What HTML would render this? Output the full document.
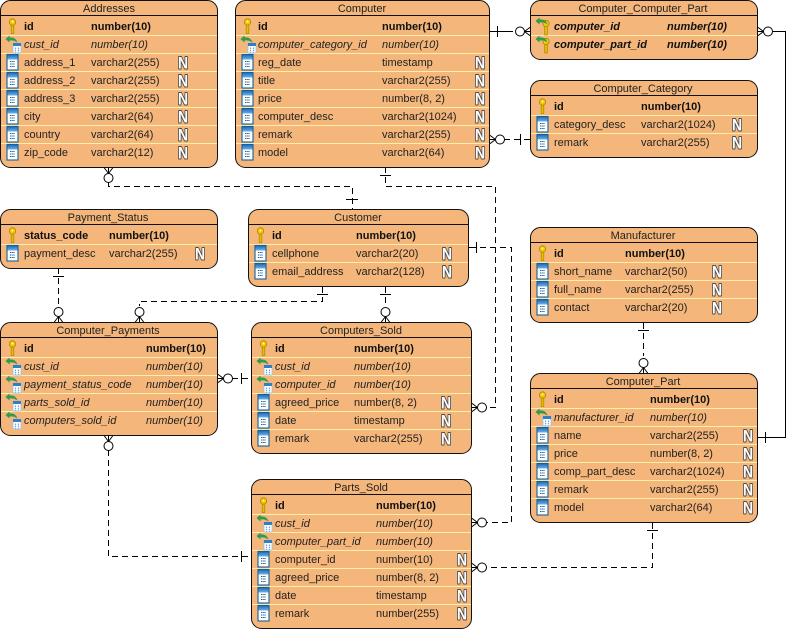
<!DOCTYPE html>
<html><head><meta charset="utf-8"><style>
html,body{margin:0;padding:0;background:#fff}
svg{display:block}
text{font:11px "Liberation Sans",Arial,sans-serif;fill:#222}
.b{font-weight:bold;fill:#111}
.i{font-style:italic}
.bi{font-weight:bold;font-style:italic;fill:#111}
.t{text-anchor:middle}
.N{font-weight:bold;font-size:17px;text-anchor:middle;fill:#fff;stroke:#4a4a4a;stroke-width:2px;paint-order:stroke;stroke-linejoin:round;transform-box:fill-box;transform-origin:center;transform:scaleX(.82)}
.box{fill:#f4b67a;stroke:#111;stroke-width:1}
.h{stroke:#111;fill:none}
.s{stroke:#fdf0a8;fill:none}
.c{stroke:#000;fill:none;stroke-width:1}
.d{stroke:#000;fill:none;stroke-width:1;stroke-dasharray:6 4}
.cf{stroke:#000;fill:none}
.cf circle{fill:#fff}
</style></head><body>
<svg width="786" height="629" viewBox="0 0 786 629" xmlns="http://www.w3.org/2000/svg">
<defs>
<linearGradient id="gt" x1="0" y1="0" x2="0" y2="1"><stop offset="0" stop-color="#1f6fbd"/><stop offset="1" stop-color="#6fb0e6"/></linearGradient>
<g id="k"><rect x="-1.300" y="-3" width="2.600" height="10.500" fill="#eebb00" stroke="#a88600" stroke-width=".7"/><circle cx="0" cy="-4" r="3.200" fill="#f5c800" stroke="#a88600" stroke-width=".8"/><circle cx="0" cy="-4.500" r="1" fill="#fff3b0"/></g>
<g id="c"><rect x="-5.500" y="-7.500" width="11" height="15.500" fill="#fff" stroke="#14609f" stroke-width="1.100"/><rect x="-5" y="-7" width="10" height="4.500" fill="url(#gt)"/><path d="M-2.500-.5h5M-2.500 2h5M-2.500 4.500h5" stroke="#14609f" stroke-width="1.100" stroke-dasharray="1.500 .7"/></g>
<path id="a" d="M-7-5-3-8.500-3-6.500C1-7 4-5 5-1.500 2-3.500 0-4-3-3.500L-3-1.500Z" fill="#2e9b4f"/>
<g id="f"><use href="#a"/><rect x="0.500" y="-.5" width="8" height="9.500" fill="#fff" stroke="#9cc0e0" stroke-width=".8"/><rect x="0.500" y="-1" width="8" height="3" fill="#2f7fc8"/><path d="M3 3.500v5M6 3.500v5" stroke="#6aa3d6" stroke-width="1.200" stroke-dasharray="1.500 .7"/></g>
<g id="fk"><use href="#k" x="3.500" y="1.500"/><use href="#a"/></g>
<g id="foot" class="cf"><path d="M0-4.500 6 0M0 4.500 6 0M0 0H6"/><circle cx="10.500" cy="0" r="4.500"/></g>
</defs>

<!-- connectors -->
<path class="d" d="M108.500 182V186.500H352.500V209"/>
<path class="c" d="M346 199.500H358"/>
<use href="#foot" transform="translate(108.500,167.500) rotate(90)"/>

<path class="d" d="M385.500 167V186.500H495.500V407.500H486"/>
<path class="c" d="M380 175.500H391"/>
<use href="#foot" transform="translate(471.500,407.500)"/>

<path class="c" d="M468 247.500H476.500M476.500 242V253"/>
<path class="d" d="M480 247.500H511.500V522.500H486"/>
<use href="#foot" transform="translate(471.500,522.500)"/>

<path class="c" d="M490 31.500H513M497.500 26V37"/>
<use href="#foot" transform="translate(530.500,31.500) rotate(180)"/>
<path class="c" d="M773 31.500H785.500V437.500H757.500M765.500 432V443"/>
<use href="#foot" transform="translate(757.500,31.500)"/>

<path class="d" d="M504 139.500H530"/>
<path class="c" d="M520.500 134V145"/>
<use href="#foot" transform="translate(489.500,139.500)"/>

<path class="d" d="M58.500 268V306"/>
<path class="c" d="M53 276.500H64"/>
<use href="#foot" transform="translate(58.500,322.500) rotate(-90)"/>

<path class="d" d="M322.500 287V301.500H139.500V306"/>
<path class="c" d="M317 294.500H328"/>
<use href="#foot" transform="translate(139.500,322.500) rotate(-90)"/>

<path class="d" d="M385.500 287V306"/>
<path class="c" d="M380 294.500H391"/>
<use href="#foot" transform="translate(385.500,322.500) rotate(-90)"/>

<path class="d" d="M232 378.500H251"/>
<path class="c" d="M241.500 373V384"/>
<use href="#foot" transform="translate(217.500,378.500)"/>

<path class="d" d="M643.500 323V356"/>
<path class="c" d="M638 330.500H649"/>
<use href="#foot" transform="translate(643.500,373.500) rotate(-90)"/>

<path class="d" d="M652.500 523V567.500H486"/>
<path class="c" d="M647 530.500H658"/>
<use href="#foot" transform="translate(471.500,567.500)"/>

<path class="d" d="M108.500 450V556.500H251"/>
<path class="c" d="M241.500 551V562"/>
<use href="#foot" transform="translate(108.500,435.500) rotate(90)"/>

<!-- Addresses -->
<g transform="translate(0,0)">
<rect class="box" x=".5" y=".5" width="217" height="167" rx="10"/>
<path class="h" d="M.5 15.500H217.500"/>
<path class="s" d="M1 35.500H217M1 53.500H217M1 71.500H217M1 89.500H217M1 107.500H217M1 125.500H217M1 143.500H217"/>
<text class="t" x="109" y="12">Addresses</text>
<use href="#k" x="12.500" y="26"/><text class="b" x="24" y="30">id</text><text class="b" x="91" y="30">number(10)</text>
<use href="#f" x="12.500" y="44"/><text class="i" x="24" y="48">cust_id</text><text class="i" x="91" y="48">number(10)</text>
<use href="#c" x="12.500" y="62"/><text x="24" y="66">address_1</text><text x="91" y="66">varchar2(255)</text><text class="N" x="183" y="68.500">N</text>
<use href="#c" x="12.500" y="80"/><text x="24" y="84">address_2</text><text x="91" y="84">varchar2(255)</text><text class="N" x="183" y="86.500">N</text>
<use href="#c" x="12.500" y="98"/><text x="24" y="102">address_3</text><text x="91" y="102">varchar2(255)</text><text class="N" x="183" y="104.500">N</text>
<use href="#c" x="12.500" y="116"/><text x="24" y="120">city</text><text x="91" y="120">varchar2(64)</text><text class="N" x="183" y="122.500">N</text>
<use href="#c" x="12.500" y="134"/><text x="24" y="138">country</text><text x="91" y="138">varchar2(64)</text><text class="N" x="183" y="140.500">N</text>
<use href="#c" x="12.500" y="152"/><text x="24" y="156">zip_code</text><text x="91" y="156">varchar2(12)</text><text class="N" x="183" y="158.500">N</text>
</g>

<!-- Computer -->
<g transform="translate(235,0)">
<rect class="box" x=".5" y=".5" width="254" height="167" rx="10"/>
<path class="h" d="M.5 15.500H254.500"/>
<path class="s" d="M1 35.500H254M1 53.500H254M1 71.500H254M1 89.500H254M1 107.500H254M1 125.500H254M1 143.500H254"/>
<text class="t" x="127" y="12">Computer</text>
<use href="#k" x="12.500" y="26"/><text class="b" x="23" y="30">id</text><text class="b" x="147" y="30">number(10)</text>
<use href="#f" x="12.500" y="44"/><text class="i" x="23" y="48">computer_category_id</text><text class="i" x="147" y="48">number(10)</text>
<use href="#c" x="12.500" y="62"/><text x="23" y="66">reg_date</text><text x="147" y="66">timestamp</text><text class="N" x="245" y="68.500">N</text>
<use href="#c" x="12.500" y="80"/><text x="23" y="84">title</text><text x="147" y="84">varchar2(255)</text><text class="N" x="245" y="86.500">N</text>
<use href="#c" x="12.500" y="98"/><text x="23" y="102">price</text><text x="147" y="102">number(8, 2)</text><text class="N" x="245" y="104.500">N</text>
<use href="#c" x="12.500" y="116"/><text x="23" y="120">computer_desc</text><text x="147" y="120">varchar2(1024)</text><text class="N" x="245" y="122.500">N</text>
<use href="#c" x="12.500" y="134"/><text x="23" y="138">remark</text><text x="147" y="138">varchar2(255)</text><text class="N" x="245" y="140.500">N</text>
<use href="#c" x="12.500" y="152"/><text x="23" y="156">model</text><text x="147" y="156">varchar2(64)</text><text class="N" x="245" y="158.500">N</text>
</g>

<!-- Computer_Computer_Part -->
<g transform="translate(530,0)">
<rect class="box" x=".5" y=".5" width="227" height="59" rx="10"/>
<path class="h" d="M.5 15.500H227.500"/>
<path class="s" d="M1 35.500H227"/>
<text class="t" x="113" y="12">Computer_Computer_Part</text>
<use href="#fk" x="12.500" y="26"/><text class="bi" x="24" y="30">computer_id</text><text class="bi" x="137" y="30">number(10)</text>
<use href="#fk" x="12.500" y="44"/><text class="bi" x="24" y="48">computer_part_id</text><text class="bi" x="137" y="48">number(10)</text>
</g>

<!-- Computer_Category -->
<g transform="translate(530,80)">
<rect class="box" x=".5" y=".5" width="227" height="77" rx="10"/>
<path class="h" d="M.5 15.500H227.500"/>
<path class="s" d="M1 35.500H227M1 53.500H227"/>
<text class="t" x="113" y="12">Computer_Category</text>
<use href="#k" x="12.500" y="26"/><text class="b" x="24" y="30">id</text><text class="b" x="111" y="30">number(10)</text>
<use href="#c" x="12.500" y="44"/><text x="24" y="48">category_desc</text><text x="111" y="48">varchar2(1024)</text><text class="N" x="207" y="50.500">N</text>
<use href="#c" x="12.500" y="62"/><text x="24" y="66">remark</text><text x="111" y="66">varchar2(255)</text><text class="N" x="207" y="68.500">N</text>
</g>

<!-- Manufacturer -->
<g transform="translate(530,227)">
<rect class="box" x=".5" y=".5" width="227" height="95" rx="10"/>
<path class="h" d="M.5 15.500H227.500"/>
<path class="s" d="M1 35.500H227M1 53.500H227M1 71.500H227"/>
<text class="t" x="113" y="12">Manufacturer</text>
<use href="#k" x="12.500" y="26"/><text class="b" x="24" y="30">id</text><text class="b" x="95" y="30">number(10)</text>
<use href="#c" x="12.500" y="44"/><text x="24" y="48">short_name</text><text x="95" y="48">varchar2(50)</text><text class="N" x="187" y="50.500">N</text>
<use href="#c" x="12.500" y="62"/><text x="24" y="66">full_name</text><text x="95" y="66">varchar2(255)</text><text class="N" x="187" y="68.500">N</text>
<use href="#c" x="12.500" y="80"/><text x="24" y="84">contact</text><text x="95" y="84">varchar2(20)</text><text class="N" x="187" y="86.500">N</text>
</g>

<!-- Computer_Part -->
<g transform="translate(530,373)">
<rect class="box" x=".5" y=".5" width="227" height="149" rx="10"/>
<path class="h" d="M.5 15.500H227.500"/>
<path class="s" d="M1 35.500H227M1 53.500H227M1 71.500H227M1 89.500H227M1 107.500H227M1 125.500H227"/>
<text class="t" x="113" y="12">Computer_Part</text>
<use href="#k" x="12.500" y="26"/><text class="b" x="24" y="30">id</text><text class="b" x="120" y="30">number(10)</text>
<use href="#f" x="12.500" y="44"/><text class="i" x="24" y="48">manufacturer_id</text><text class="i" x="120" y="48">number(10)</text>
<use href="#c" x="12.500" y="62"/><text x="24" y="66">name</text><text x="120" y="66">varchar2(255)</text><text class="N" x="218" y="68.500">N</text>
<use href="#c" x="12.500" y="80"/><text x="24" y="84">price</text><text x="120" y="84">number(8, 2)</text><text class="N" x="218" y="86.500">N</text>
<use href="#c" x="12.500" y="98"/><text x="24" y="102">comp_part_desc</text><text x="120" y="102">varchar2(1024)</text><text class="N" x="218" y="104.500">N</text>
<use href="#c" x="12.500" y="116"/><text x="24" y="120">remark</text><text x="120" y="120">varchar2(255)</text><text class="N" x="218" y="122.500">N</text>
<use href="#c" x="12.500" y="134"/><text x="24" y="138">model</text><text x="120" y="138">varchar2(64)</text><text class="N" x="218" y="140.500">N</text>
</g>

<!-- Payment_Status -->
<g transform="translate(0,209)">
<rect class="box" x=".5" y=".5" width="217" height="59" rx="10"/>
<path class="h" d="M.5 15.500H217.500"/>
<path class="s" d="M1 35.500H217"/>
<text class="t" x="108" y="12">Payment_Status</text>
<use href="#k" x="12.500" y="26"/><text class="b" x="24" y="30">status_code</text><text class="b" x="109" y="30">number(10)</text>
<use href="#c" x="12.500" y="44"/><text x="24" y="48">payment_desc</text><text x="109" y="48">varchar2(255)</text><text class="N" x="200" y="50.500">N</text>
</g>

<!-- Customer -->
<g transform="translate(248,209)">
<rect class="box" x=".5" y=".5" width="220" height="77" rx="10"/>
<path class="h" d="M.5 15.500H220.500"/>
<path class="s" d="M1 35.500H220M1 53.500H220"/>
<text class="t" x="110" y="12">Customer</text>
<use href="#k" x="12.500" y="26"/><text class="b" x="24" y="30">id</text><text class="b" x="108" y="30">number(10)</text>
<use href="#c" x="12.500" y="44"/><text x="24" y="48">cellphone</text><text x="108" y="48">varchar2(20)</text><text class="N" x="199" y="50.500">N</text>
<use href="#c" x="12.500" y="62"/><text x="24" y="66">email_address</text><text x="108" y="66">varchar2(128)</text><text class="N" x="199" y="68.500">N</text>
</g>

<!-- Computer_Payments -->
<g transform="translate(0,322)">
<rect class="box" x=".5" y=".5" width="217" height="113" rx="10"/>
<path class="h" d="M.5 15.500H217.500"/>
<path class="s" d="M1 35.500H217M1 53.500H217M1 71.500H217M1 89.500H217"/>
<text class="t" x="108" y="12">Computer_Payments</text>
<use href="#k" x="12.500" y="26"/><text class="b" x="24" y="30">id</text><text class="b" x="146" y="30">number(10)</text>
<use href="#f" x="12.500" y="44"/><text class="i" x="24" y="48">cust_id</text><text class="i" x="146" y="48">number(10)</text>
<use href="#f" x="12.500" y="62"/><text class="i" x="24" y="66">payment_status_code</text><text class="i" x="146" y="66">number(10)</text>
<use href="#f" x="12.500" y="80"/><text class="i" x="24" y="84">parts_sold_id</text><text class="i" x="146" y="84">number(10)</text>
<use href="#f" x="12.500" y="98"/><text class="i" x="24" y="102">computers_sold_id</text><text class="i" x="146" y="102">number(10)</text>
</g>

<!-- Computers_Sold -->
<g transform="translate(251,322)">
<rect class="box" x=".5" y=".5" width="220" height="131" rx="10"/>
<path class="h" d="M.5 15.500H220.500"/>
<path class="s" d="M1 35.500H220M1 53.500H220M1 71.500H220M1 89.500H220M1 107.500H220"/>
<text class="t" x="110" y="12">Computers_Sold</text>
<use href="#k" x="12.500" y="26"/><text class="b" x="24" y="30">id</text><text class="b" x="103" y="30">number(10)</text>
<use href="#f" x="12.500" y="44"/><text class="i" x="24" y="48">cust_id</text><text class="i" x="103" y="48">number(10)</text>
<use href="#f" x="12.500" y="62"/><text class="i" x="24" y="66">computer_id</text><text class="i" x="103" y="66">number(10)</text>
<use href="#c" x="12.500" y="80"/><text x="24" y="84">agreed_price</text><text x="103" y="84">number(8, 2)</text><text class="N" x="195" y="86.500">N</text>
<use href="#c" x="12.500" y="98"/><text x="24" y="102">date</text><text x="103" y="102">timestamp</text><text class="N" x="195" y="104.500">N</text>
<use href="#c" x="12.500" y="116"/><text x="24" y="120">remark</text><text x="103" y="120">varchar2(255)</text><text class="N" x="195" y="122.500">N</text>
</g>

<!-- Parts_Sold -->
<g transform="translate(251,479)">
<rect class="box" x=".5" y=".5" width="220" height="149" rx="10"/>
<path class="h" d="M.5 15.500H220.500"/>
<path class="s" d="M1 35.500H220M1 53.500H220M1 71.500H220M1 89.500H220M1 107.500H220M1 125.500H220"/>
<text class="t" x="110" y="12">Parts_Sold</text>
<use href="#k" x="12.500" y="26"/><text class="b" x="24" y="30">id</text><text class="b" x="125" y="30">number(10)</text>
<use href="#f" x="12.500" y="44"/><text class="i" x="24" y="48">cust_id</text><text class="i" x="125" y="48">number(10)</text>
<use href="#f" x="12.500" y="62"/><text class="i" x="24" y="66">computer_part_id</text><text class="i" x="125" y="66">number(10)</text>
<use href="#c" x="12.500" y="80"/><text x="24" y="84">computer_id</text><text x="125" y="84">number(10)</text><text class="N" x="211" y="86.500">N</text>
<use href="#c" x="12.500" y="98"/><text x="24" y="102">agreed_price</text><text x="125" y="102">number(8, 2)</text><text class="N" x="211" y="104.500">N</text>
<use href="#c" x="12.500" y="116"/><text x="24" y="120">date</text><text x="125" y="120">timestamp</text><text class="N" x="211" y="122.500">N</text>
<use href="#c" x="12.500" y="134"/><text x="24" y="138">remark</text><text x="125" y="138">number(255)</text><text class="N" x="211" y="140.500">N</text>
</g>
</svg>
</body></html>
